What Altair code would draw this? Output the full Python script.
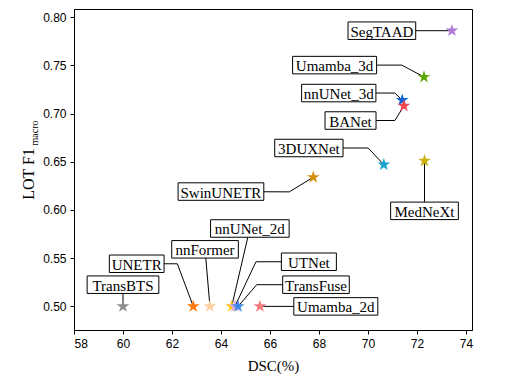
import altair as alt
import pandas as pd

# ---- data ----
models = ["TransBTS", "UNETR", "nnFormer", "nnUNet_2d", "UTNet", "TransFuse", "Umamba_2d",
          "SwinUNETR", "3DUXNet", "MedNeXt", "nnUNet_3d", "BANet", "Umamba_3d", "SegTAAD"]
dsc = [60.0, 62.87, 63.55, 64.44, 64.57, 64.70, 65.59, 67.77, 70.65, 72.31, 71.40, 71.47, 72.29, 73.43]
f1 = [0.500, 0.500, 0.500, 0.500, 0.500, 0.500, 0.500, 0.634, 0.647, 0.651, 0.714, 0.708, 0.738, 0.786]
colors = ["#8f8f8f", "#ff7a0a", "#ffcf9f", "#ffc91a", "#d9a3e8", "#3f8ae6", "#f47c7c",
          "#d98e0b", "#17a3cc", "#c9b20a", "#1663d6", "#f2474f", "#5ea80b", "#b37bd9"]

# ---- annotation layout (label box centres and leader-line elbows, data units) ----
label_x = [60.0, 60.56, 63.35, 65.18, 67.59, 67.88, 68.69, 64.0, 67.59, 72.31, 68.81, 69.29, 68.64, 70.57]
label_y = [0.5225, 0.5442, 0.5592, 0.5808, 0.5463, 0.5225, 0.500, 0.6191, 0.6643, 0.5991, 0.7213, 0.6928, 0.7503, 0.786]
elbow_x = [None, 62.22, None, None, 65.43, 65.46, None, 66.79, 70.01, None, 71.10, 71.10, 71.38, None]
elbow_y = [None, 0.5442, None, None, 0.5463, 0.5225, None, 0.6188, 0.6643, None, 0.7213, 0.6928, 0.7503, None]
box_w_px = [71.7, 54.7, 66.6, 78.6, 55.0, 66.6, 84.0, 85.7, 68.3, 67.7, 74.3, 51.0, 84.0, 67.7]
box_h_px = 17.5

x_ticks = list(range(58, 75))
y_ticks = [round(0.5 + 0.025 * i, 3) for i in range(13)]

W, H = 398, 321
X_DOM = [58, 74.25]
Y_DOM = [0.4755, 0.8085]
px_x = W / (X_DOM[1] - X_DOM[0])
px_y = H / (Y_DOM[1] - Y_DOM[0])

pts = pd.DataFrame({"model": models, "dsc": dsc, "f1": f1, "color": colors})

boxes = pd.DataFrame({
    "model": models,
    "lx": label_x, "ly": label_y,
    "x1": [lx - w / 2 / px_x for lx, w in zip(label_x, box_w_px)],
    "x2": [lx + w / 2 / px_x for lx, w in zip(label_x, box_w_px)],
    "y1": [ly - box_h_px / 2 / px_y for ly in label_y],
    "y2": [ly + box_h_px / 2 / px_y for ly in label_y],
})

rows = []
for i, m in enumerate(models):
    rows.append({"model": m, "o": 0, "x": dsc[i], "y": f1[i]})
    if elbow_x[i] is not None:
        rows.append({"model": m, "o": 1, "x": elbow_x[i], "y": elbow_y[i]})
    rows.append({"model": m, "o": 2, "x": label_x[i], "y": label_y[i]})
lines = pd.DataFrame(rows)

STAR = ("M0,-1L0.225,-0.309L0.951,-0.309L0.363,0.118L0.588,0.809L0,0.382"
        "L-0.588,0.809L-0.363,0.118L-0.951,-0.309L-0.225,-0.309Z")

xscale = alt.Scale(domain=X_DOM, nice=False, zero=False)
yscale = alt.Scale(domain=Y_DOM, nice=False, zero=False)

xaxis = alt.Axis(
    values=x_ticks, format="d", grid=False, labelOverlap=False,
    labelExpr="datum.value % 2 == 0 ? datum.label : ''",
    tickSize={"condition": {"test": "datum.value % 2 == 0", "value": 4}, "value": 2.5},
    title="DSC(%)", titleFont="Liberation Serif", titleFontSize=15, titleFontWeight="normal",
    titlePadding=9, labelPadding=4,
)
yaxis = alt.Axis(
    values=y_ticks, format=".2f", grid=False, labelOverlap=False,
    labelExpr="abs(datum.value * 20 - round(datum.value * 20)) < 0.001 ? datum.label : ''",
    tickSize={"condition": {"test": "abs(datum.value * 20 - round(datum.value * 20)) < 0.001",
                            "value": 4}, "value": 2.5},
    title=None, labelPadding=4,
)

line_layer = alt.Chart(lines).mark_line(color="black", strokeWidth=1).encode(
    x=alt.X("x:Q", scale=xscale, axis=xaxis),
    y=alt.Y("y:Q", scale=yscale, axis=yaxis),
    detail="model:N",
    order="o:Q",
)

box_layer = alt.Chart(boxes).mark_rect(fill="white", stroke="black", strokeWidth=1).encode(
    x="x1:Q", x2="x2:Q", y="y1:Q", y2="y2:Q",
)

text_layer = alt.Chart(boxes).mark_text(
    font="Liberation Serif", fontSize=15, baseline="middle", align="center", dy=1, color="black"
).encode(x="lx:Q", y="ly:Q", text="model:N")

star_layer = alt.Chart(pts).mark_point(shape=STAR, filled=True, size=180, opacity=1, strokeWidth=0).encode(
    x="dsc:Q", y="f1:Q", color=alt.Color("color:N", scale=None),
)

ytitle_main = alt.Chart(pd.DataFrame({"t": ["LOT  F1"]})).mark_text(
    font="Liberation Serif", fontSize=16, angle=270, align="center", baseline="alphabetic", color="black"
).encode(x=alt.value(-40), y=alt.value(165), text="t:N")

ytitle_sub = alt.Chart(pd.DataFrame({"t": ["macro"]})).mark_text(
    font="Liberation Serif", fontSize=10, angle=270, align="center", baseline="alphabetic", color="black"
).encode(x=alt.value(-36), y=alt.value(124), text="t:N")

chart = alt.layer(line_layer, box_layer, text_layer, star_layer, ytitle_main, ytitle_sub).properties(
    width=W, height=H,
    autosize=alt.AutoSizeParams(type="none"),
    padding={"left": 66, "top": 1, "right": 20, "bottom": 44},
).configure_view(stroke="black", strokeWidth=1).configure_axis(
    labelFont="Liberation Sans", labelFontSize=12, labelColor="black",
    domainColor="black", tickColor="black", titleColor="black",
)

chart.save("out.html", embed_options={"renderer": "svg", "actions": False})
